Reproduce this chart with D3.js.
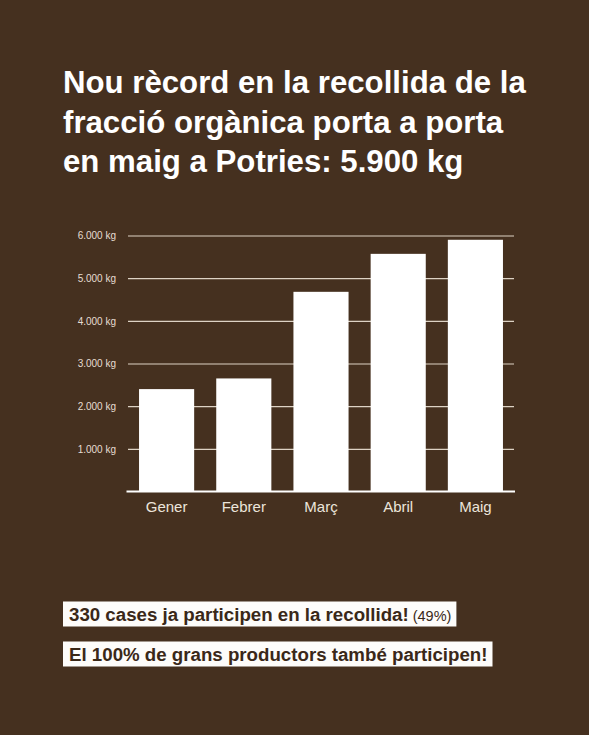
<!DOCTYPE html>
<html>
<head>
<meta charset="utf-8">
<script src="https://cdn.jsdelivr.net/npm/d3@7"></script>
<style>
  body { margin: 0; background: #45301f; }
  svg { display: block; }
</style>
</head>
<body>
<script>
var w = 589;
var h = 735;
var bg = "#45301f";

var titleLines = [
  "Nou rècord en la recollida de la",
  "fracció orgànica porta a porta",
  "en maig a Potries: 5.900 kg"
];
var months = ["Gener", "Febrer", "Març", "Abril", "Maig"];
var kilos = [2400, 2650, 4680, 5570, 5900];
var yTicks = [1000, 2000, 3000, 4000, 5000, 6000];
var notes = [
  { bold: "330 cases ja participen en la recollida!", extra: " (49%)" },
  { bold: "El 100% de grans productors també participen!", extra: "" }
];

var svg = d3.select("body").append("svg").attr("width", w).attr("height", h);
svg.append("rect").attr("width", w).attr("height", h).attr("fill", bg);

// title
svg.append("g")
  .selectAll("text")
  .data(titleLines)
  .enter()
  .append("text")
  .text(function (d) { return d; })
  .attr("x", 63)
  .attr("y", function (d, i) { return 93 + i * 39.5; })
  .attr("font-family", "Liberation Sans, Arial, sans-serif")
  .attr("font-weight", "bold")
  .attr("font-size", 31.2)
  .attr("fill", "#ffffff");

// chart
var plotLeft = 128, plotRight = 514, plotTop = 235.5, plotBottom = 491.5;

var x = d3.scaleBand()
  .domain(months)
  .range([plotLeft, plotRight])
  .paddingInner(0.286)
  .paddingOuter(0.143);

var y = d3.scaleLinear()
  .domain([0, 6000])
  .range([plotBottom, plotTop]);

var grid = svg.append("g")
  .attr("transform", "translate(" + plotLeft + ",0)")
  .call(d3.axisLeft(y)
    .tickValues(yTicks)
    .tickSize(-(plotRight - plotLeft))
    .tickPadding(12)
    .tickFormat(function (d) { return d3.format(",")(d).replace(",", ".") + " kg"; }));
grid.select(".domain").remove();
grid.selectAll(".tick line").attr("stroke", "#ddd2c4").attr("stroke-width", 1.2);
grid.selectAll(".tick text")
  .attr("fill", "#e6ddd2")
  .attr("font-family", "Liberation Sans, Arial, sans-serif")
  .attr("font-size", 10);

svg.selectAll("rect.bar")
  .data(kilos)
  .enter()
  .append("rect")
  .attr("class", "bar")
  .attr("x", function (d, i) { return x(months[i]); })
  .attr("y", function (d) { return y(d); })
  .attr("width", x.bandwidth())
  .attr("height", function (d) { return y(0) - y(d); })
  .attr("fill", "#ffffff");

var xAxis = svg.append("g")
  .attr("transform", "translate(0," + plotBottom + ")")
  .call(d3.axisBottom(x).tickSize(0).tickPadding(10));
xAxis.select(".domain").attr("stroke", "#ffffff").attr("stroke-width", 2)
  .attr("d", "M" + (plotLeft - 1.5) + ",0H" + (plotRight + 1));
xAxis.selectAll(".tick text")
  .attr("fill", "#ece5db")
  .attr("font-family", "Liberation Sans, Arial, sans-serif")
  .attr("font-size", 15);

// notes
notes.forEach(function (n, i) {
  var g = svg.append("g");
  var box = g.append("rect").attr("fill", "#fdfcfa");
  var t = g.append("text")
    .attr("x", 69)
    .attr("y", 620.5 + i * 40)
    .attr("font-family", "Liberation Sans, Arial, sans-serif")
    .attr("fill", "#3a2818");
  t.append("tspan").text(n.bold).attr("font-weight", "bold").attr("font-size", 18.7);
  if (n.extra) {
    t.append("tspan").text(n.extra).attr("font-size", 14.5);
  }
  var bb = t.node().getBBox();
  box.attr("x", 63)
    .attr("y", 601.5 + i * 40)
    .attr("width", bb.x + bb.width - 63 + 5)
    .attr("height", 25);
});
</script>
</body>
</html>
